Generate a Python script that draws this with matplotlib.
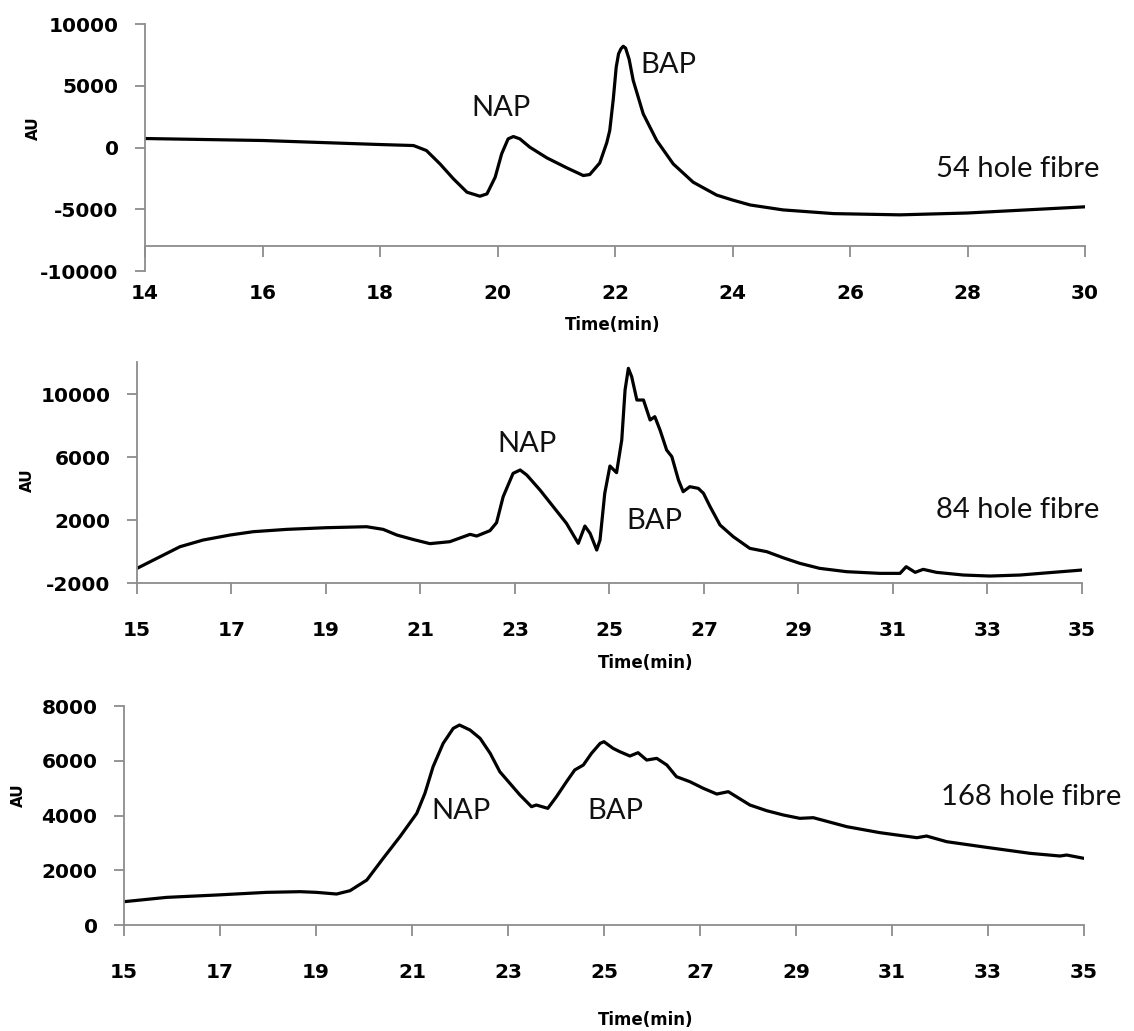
import matplotlib
matplotlib.use('Agg')
from matplotlib import pyplot as plt

plt.rcParams['axes.unicode_minus'] = False

# 54 hole fibre trace
t54 = [14.0, 16.0, 18.0, 18.57, 18.79, 19.02, 19.25, 19.48, 19.70, 19.82,
       19.96, 20.07, 20.18, 20.27, 20.38, 20.55, 20.84, 21.18, 21.46, 21.57,
       21.74, 21.86, 21.91, 21.97, 22.02, 22.06, 22.10, 22.14, 22.18, 22.24,
       22.31, 22.48, 22.71, 22.99, 23.33, 23.73, 24.0, 24.3, 24.58,
       24.86, 25.15, 25.72, 26.85, 28.0, 29.0, 30.0]
au54 = [730, 570, 243, 162, -243, -1322, -2537, -3617, -3941, -3752,
        -2402, -513, 702, 891, 702, 27, -837, -1646, -2267, -2186,
        -1250, 400, 1377, 3900, 6505, 7584, 7989, 8200, 8050, 7150,
        5425, 2726, 567, -1322, -2807, -3850, -4250, -4650, -4850,
        -5050, -5150, -5350, -5450, -5300, -5050, -4800]

# 84 hole fibre trace
t84 = [15.0, 15.35, 15.91, 16.40, 16.97, 17.46, 18.17, 19.01, 19.86, 20.21,
       20.50, 20.85, 21.20, 21.62, 22.05, 22.19, 22.47, 22.61, 22.75, 22.96,
       23.11, 23.25, 23.53, 23.81, 24.09, 24.34, 24.48, 24.59, 24.73, 24.80,
       24.90, 25.01, 25.15, 25.26, 25.33, 25.40, 25.47, 25.58, 25.72, 25.86,
       25.96, 26.07, 26.21, 26.32, 26.46, 26.56, 26.70, 26.88, 26.99, 27.13,
       27.34, 27.62, 27.97, 28.33, 28.68, 29.03, 29.45, 30.02, 30.72, 31.15,
       31.28, 31.47, 31.64, 31.92, 32.49, 33.05, 33.69, 34.39, 35.0]
au84 = [-1069, -540, 306, 730, 1048, 1259, 1407, 1513, 1575, 1407,
        1048, 760, 500, 624, 1090, 984, 1323, 1831, 3481, 4963,
        5175, 4857, 3905, 2847, 1788, 519, 1619, 1153, 95, 730,
        3693, 5429, 5005, 7079, 10254, 11630, 11100, 9619, 9619, 8349,
        8561, 7714, 6444, 6021, 4540, 3799, 4116, 4011, 3693, 2847,
        1683, 942, 201, -11, -400, -751, -1069, -1280, -1386, -1386,
        -963, -1322, -1132, -1322, -1492, -1556, -1492, -1322, -1175]

# 168 hole fibre trace
t168 = [15.0, 15.89, 16.93, 17.97, 18.67, 19.01, 19.43, 19.71, 20.06, 20.40,
        20.75, 21.10, 21.27, 21.44, 21.65, 21.86, 21.99, 22.21, 22.42, 22.63,
        22.83, 23.04, 23.25, 23.49, 23.59, 23.83, 24.01, 24.22, 24.39, 24.57,
        24.74, 24.92, 25.0, 25.19, 25.33, 25.54, 25.71, 25.89, 26.10, 26.31,
        26.51, 26.79, 27.07, 27.35, 27.59, 28.04, 28.39, 28.74, 29.08, 29.36,
        30.06, 30.75, 31.52, 31.72, 32.14, 32.97, 33.88, 34.50, 34.64, 35.0]
au168 = [852, 1010, 1096, 1193, 1218, 1193, 1132, 1254, 1644, 2435,
         3227, 4079, 4810, 5784, 6636, 7184, 7306, 7123, 6819, 6271,
         5601, 5175, 4749, 4323, 4384, 4262, 4688, 5236, 5662, 5845,
         6271, 6636, 6697, 6453, 6332, 6174, 6295, 6027, 6088, 5845,
         5419, 5236, 4993, 4785, 4871, 4384, 4176, 4018, 3897, 3921,
         3592, 3373, 3190, 3251, 3044, 2837, 2618, 2521, 2557, 2435]

AXIS_GREY = '#8c8c8c'
NOTE_FONT = 'Lato'


def style_axes(ax, xlim, xticks, ylim, yticks, xcross):
    ax.set_xlim(*xlim)
    ax.set_ylim(*ylim)
    ax.set_xticks(xticks)
    ax.set_yticks(yticks)
    for side in ('top', 'right'):
        ax.spines[side].set_visible(False)
    for side in ('left', 'bottom'):
        ax.spines[side].set_color(AXIS_GREY)
        ax.spines[side].set_linewidth(1.3)
    ax.spines['bottom'].set_position(('data', xcross))
    ax.tick_params(axis='x', direction='out', length=8, width=1.3,
                   color=AXIS_GREY, pad=19, labelsize=14.5)
    ax.tick_params(axis='y', direction='out', length=7, width=1.3,
                   color=AXIS_GREY, pad=12, labelsize=14.5)
    for lab in ax.get_xticklabels() + ax.get_yticklabels():
        lab.set_fontweight('bold')
    ax.set_ylabel('AU', fontsize=11, fontweight='bold', va='center')
    ax.set_xlabel('Time(min)', fontsize=12, fontweight='bold', va='center')


def note(ax, x, y, s):
    ax.text(x, y, s, fontsize=21, family=NOTE_FONT, color='#111111',
            ha='center', va='center')


fig = plt.figure(figsize=(11.34, 10.31), dpi=100)

ax1 = fig.add_axes([0.1279, 0.7371, 0.8289, 0.2396])
ax1.plot(t54, au54, color='black', lw=2.3, solid_joinstyle='round')
style_axes(ax1, (14, 30), range(14, 31, 2), (-10000, 10000),
           range(-10000, 10001, 5000), -8000)
ax1.yaxis.set_label_coords(-0.119, 0.579)
ax1.xaxis.set_label_coords(0.497, -0.219)
note(ax1, 20.06, 3240, 'NAP')
note(ax1, 22.90, 6720, 'BAP')
note(ax1, 28.86, -1700, '54 hole fibre')

ax2 = fig.add_axes([0.1208, 0.4345, 0.8333, 0.2139])
ax2.plot(t84, au84, color='black', lw=2.3, solid_joinstyle='round')
style_axes(ax2, (15, 35), range(15, 36, 2), (-2000, 12000),
           range(-2000, 10001, 4000), -2000)
ax2.yaxis.set_label_coords(-0.116, 0.467)
ax2.xaxis.set_label_coords(0.538, -0.363)
note(ax2, 23.25, 6825, 'NAP')
note(ax2, 25.94, 1937, 'BAP')
note(ax2, 33.65, 2635, '84 hole fibre')

ax3 = fig.add_axes([0.1093, 0.1028, 0.8466, 0.2124])
ax3.plot(t168, au168, color='black', lw=2.3, solid_joinstyle='round')
style_axes(ax3, (15, 35), range(15, 36, 2), (0, 8000),
           range(0, 8001, 2000), 0)
ax3.yaxis.set_label_coords(-0.110, 0.594)
ax3.xaxis.set_label_coords(0.543, -0.434)
note(ax3, 22.02, 4164, 'NAP')
note(ax3, 25.23, 4164, 'BAP')
note(ax3, 33.90, 4676, '168 hole fibre')

fig.savefig('out.png', dpi=100)
